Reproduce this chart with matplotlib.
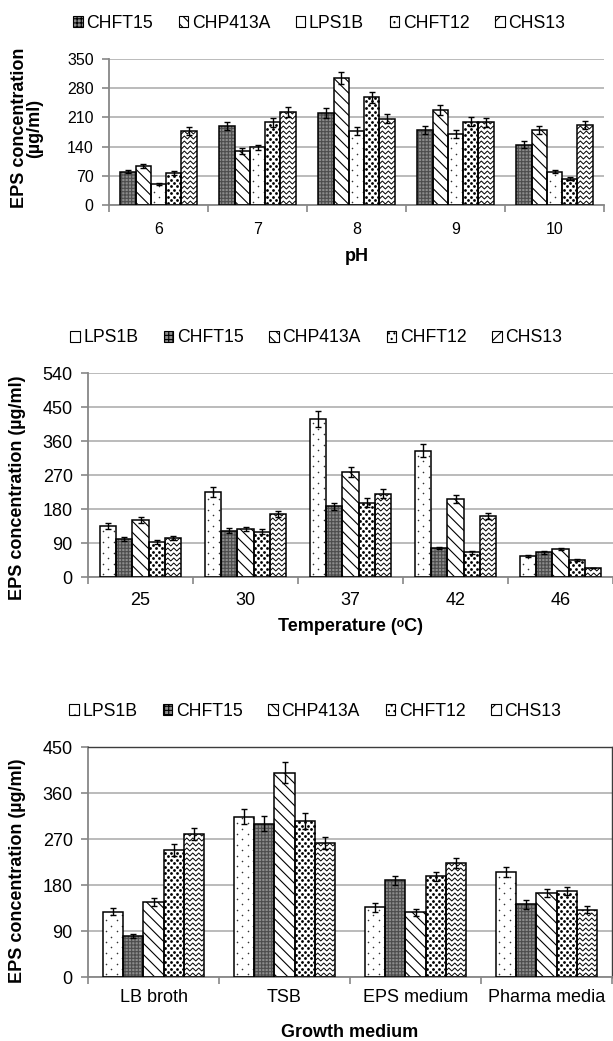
import numpy as np
import matplotlib
matplotlib.use('Agg')
import matplotlib.pyplot as plt
from matplotlib.patches import Patch

plt.rcParams['font.family'] = ['Liberation Sans', 'DejaVu Sans']
plt.rcParams['hatch.linewidth'] = 0.8

# ---- data ----
ph_labels = ['6', '7', '8', '9', '10']
ph_strains = ['CHFT15', 'CHP413A', 'LPS1B', 'CHFT12', 'CHS13']
ph_vals = [[80, 190, 220, 180, 145],
           [93, 130, 304, 227, 180],
           [50, 138, 178, 170, 80],
           [77, 198, 258, 200, 63],
           [178, 222, 207, 198, 192]]
ph_errs = [[4, 10, 12, 10, 8],
           [5, 7, 15, 12, 10],
           [3, 7, 10, 10, 4],
           [4, 11, 13, 10, 4],
           [10, 12, 11, 11, 10]]

temp_labels = ['25', '30', '37', '42', '46']
temp_strains = ['LPS1B', 'CHFT15', 'CHP413A', 'CHFT12', 'CHS13']
temp_vals = [[135, 225, 418, 334, 56],
             [100, 123, 187, 77, 65],
             [150, 127, 278, 206, 74],
             [93, 120, 196, 65, 45],
             [103, 166, 221, 162, 24]]
temp_errs = [[8, 12, 22, 17, 3],
             [5, 6, 10, 3, 3],
             [8, 6, 13, 10, 3],
             [5, 6, 12, 3, 2],
             [5, 8, 12, 8, 1]]

med_labels = ['LB broth', 'TSB', 'EPS medium', 'Pharma media']
med_strains = ['LPS1B', 'CHFT15', 'CHP413A', 'CHFT12', 'CHS13']
med_vals = [[128, 314, 136, 206],
            [80, 300, 189, 142],
            [146, 400, 127, 165],
            [248, 305, 197, 168],
            [280, 262, 223, 132]]
med_errs = [[7, 15, 8, 10],
            [4, 15, 9, 8],
            [8, 20, 7, 8],
            [12, 15, 9, 8],
            [12, 12, 10, 7]]

# fill / hatch for each strain (legend hatch approximates the custom fills)
styles = {
    'CHFT15': dict(face='#8c8c8c', hatch='+++++', hcolor='#4d4d4d', leg='++++'),
    'CHP413A': dict(face='white', hatch='\\\\\\', hcolor='black', leg='\\\\\\'),
    'LPS1B': dict(face='white', hatch=None, hcolor='black', leg='.'),
    'CHFT12': dict(face='white', hatch=None, hcolor='black', leg='...'),
    'CHS13': dict(face='white', hatch=None, hcolor='black', leg='//'),
}

GRAY = '#878787'
W, H = 613, 1041


def px_scale(ax):
    bb = ax.get_window_extent()
    x0, x1 = ax.get_xlim()
    y0, y1 = ax.get_ylim()
    return bb.width / (x1 - x0), bb.height / (y1 - y0)


def zigzag(ax, bar, gap=5.0, period=6.0, amp=1.5):
    # wavy fill drawn in pixel units, clipped to the bar
    sx, sy = px_scale(ax)
    bx, bw, bh = bar.get_x(), bar.get_width(), bar.get_height()
    nx = int(bw * sx / (period / 2)) + 3
    xs = bx + np.arange(nx) * (period / 2) / sx
    for yrow in np.arange(gap / 2 / sy, bh + gap / sy, gap / sy):
        ys = yrow + amp / sy * (np.arange(nx) % 2 * 2 - 1)
        line, = ax.plot(xs, ys, color='black', lw=0.7, zorder=2.5)
        line.set_clip_path(bar)


def dots(ax, bar, dx, dy, size, color):
    # staggered dot fill in pixel units, clipped to the bar
    sx, sy = px_scale(ax)
    bx, bw, bh = bar.get_x(), bar.get_width(), bar.get_height()
    xs, ys = [], []
    for r, yp in enumerate(np.arange(dy / 2, bh * sy, dy)):
        for xp in np.arange(dx / 4 + (dx / 2) * (r % 2), bw * sx, dx):
            xs.append(bx + xp / sx)
            ys.append(yp / sy)
    line, = ax.plot(xs, ys, 'o', ms=size * 0.72, mew=0, color=color, zorder=2.5)
    line.set_clip_path(bar)


def draw_panel(ax, cats, strains, vals, errs, ymax, ystep, fs, pad):
    n = len(cats)
    x = np.arange(n)
    ax.set_xlim(-0.5, n - 0.5)
    ax.set_ylim(0, ymax)
    group = 0.77
    w = group / len(strains)
    for i, s in enumerate(strains):
        st = styles[s]
        pos = x - group / 2 + w * (i + 0.5)
        bars = ax.bar(pos, vals[i], w, color=st['face'], hatch=st['hatch'],
                      edgecolor=st['hcolor'], linewidth=0, zorder=2)
        ax.bar(pos, vals[i], w, fill=False, edgecolor='black', linewidth=1.1, zorder=3)
        ax.errorbar(pos, vals[i], yerr=errs[i], fmt='none', ecolor='black',
                    elinewidth=1, capsize=2.5, capthick=1, zorder=4)
        for b in bars:
            if s == 'CHS13':
                zigzag(ax, b)
            elif s == 'LPS1B':
                dots(ax, b, 11, 5.4, 1.6, '#333333')
            elif s == 'CHFT12':
                dots(ax, b, 6, 3.4, 2.8, 'black')

    ax.set_yticks(np.arange(0, ymax + 1, ystep))
    ax.set_xticks(x)
    ax.set_xticklabels(cats)
    ax.set_xticks(np.arange(n + 1) - 0.5, minor=True)
    ax.tick_params(axis='x', which='major', length=0, pad=pad, labelsize=fs)
    ax.tick_params(axis='x', which='minor', length=5, color=GRAY, width=1.2)
    ax.tick_params(axis='y', length=5, color=GRAY, width=1.2, pad=6, labelsize=fs)
    ax.yaxis.grid(True, color='#a8a8a8', lw=1.1)
    ax.set_axisbelow(True)
    for side in ['top', 'right']:
        ax.spines[side].set_visible(False)
    for side in ['left', 'bottom']:
        ax.spines[side].set_color(GRAY)
        ax.spines[side].set_linewidth(1.3)

    handles = []
    for s in strains:
        st = styles[s]
        handles.append(Patch(facecolor=st['face'], edgecolor='black', linewidth=0.8,
                             hatch=st['leg']))
    return handles


def axes_px(left, top, right, bottom):
    return [left / W, 1 - bottom / H, (right - left) / W, (bottom - top) / H]


fig = plt.figure(figsize=(6.13, 10.41), dpi=100)

ax1 = fig.add_axes(axes_px(109, 59, 604, 205))
ax2 = fig.add_axes(axes_px(88, 373, 613, 577))
ax3 = fig.add_axes(axes_px(88, 747, 612, 977))

h1 = draw_panel(ax1, ph_labels, ph_strains, ph_vals, ph_errs, 350, 70, 11.5, 12)
h2 = draw_panel(ax2, temp_labels, temp_strains, temp_vals, temp_errs, 540, 90, 13, 10.5)
h3 = draw_panel(ax3, med_labels, med_strains, med_vals, med_errs, 450, 90, 13, 9)

# the medium panel keeps its plot-area frame on top and right
for side in ['top', 'right']:
    ax3.spines[side].set_visible(True)
    ax3.spines[side].set_color('#3c3c3c')
    ax3.spines[side].set_linewidth(1.0)

leg_kw = dict(loc='center', ncol=5, frameon=False, fontsize=12.7, handlelength=0.55,
              handleheight=0.55, handletextpad=0.2, columnspacing=1.45,
              bbox_transform=fig.transFigure)
ax1.legend(h1, ph_strains, bbox_to_anchor=(319 / W, 1 - 23 / H), **leg_kw)
ax2.legend(h2, temp_strains, bbox_to_anchor=(316 / W, 1 - 338 / H), **leg_kw)
ax3.legend(h3, med_strains, bbox_to_anchor=(315 / W, 1 - 711 / H), **leg_kw)

lab = dict(fontsize=13, fontweight='bold')
ax1.set_ylabel('EPS concentration\n(µg/ml)', linespacing=0.85, **lab)
ax1.yaxis.set_label_coords(-0.166, 0.527)
ax2.set_ylabel('EPS concentration (µg/ml)', **lab)
ax2.yaxis.set_label_coords(-0.135, 0.436)
ax3.set_ylabel('EPS concentration (µg/ml)', **lab)
ax3.yaxis.set_label_coords(-0.135, 0.46)

ax1.set_xlabel('pH', **lab)
ax1.xaxis.set_label_coords(0.5, -0.356)
ax2.set_xlabel('Temperature (ᵒC)', **lab)
ax2.xaxis.set_label_coords(0.5, -0.245)
ax3.set_xlabel('Growth medium', **lab)
ax3.xaxis.set_label_coords(0.5, -0.243)
for ax in (ax1, ax2, ax3):
    ax.xaxis.label.set_va('center')
    ax.yaxis.label.set_va('center')

fig.savefig('out.png', dpi=100)
